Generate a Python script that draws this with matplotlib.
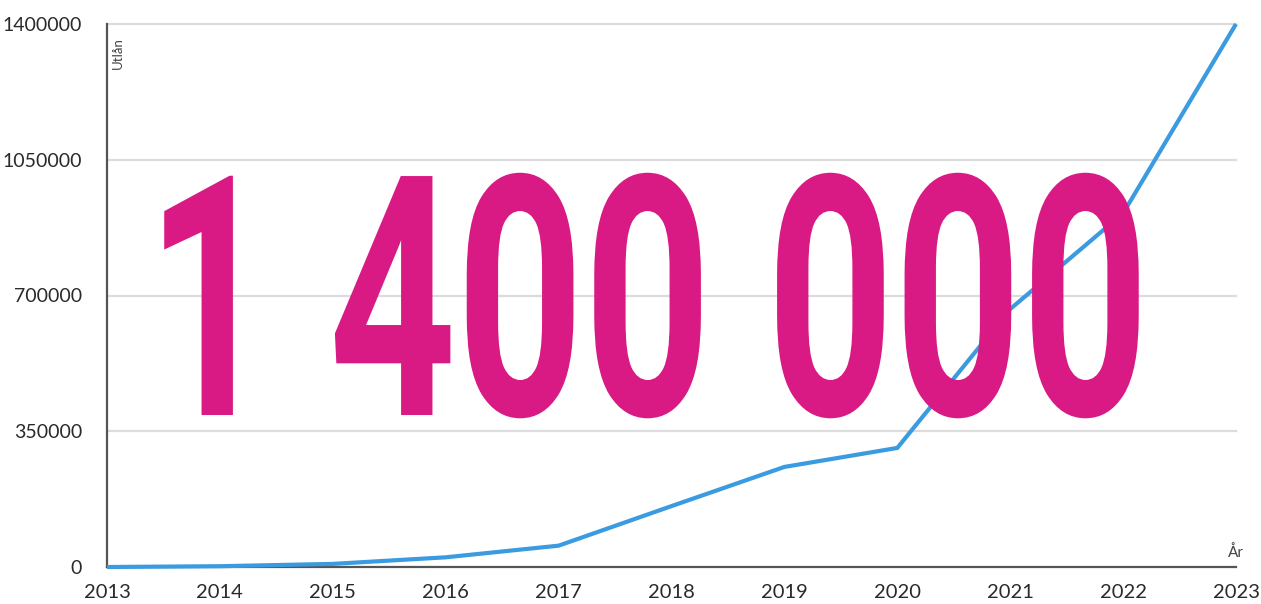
import matplotlib
matplotlib.use('Agg')
import matplotlib.pyplot as plt
from matplotlib.patheffects import AbstractPathEffect
from matplotlib.transforms import Affine2D

years = [2013, 2014, 2015, 2016, 2017, 2018, 2019, 2020, 2021, 2022, 2023]
loans = [0, 2000, 8000, 25000, 55000, 157000, 258000, 307000, 665000, 912000, 1400000]
yticks = [0, 350000, 700000, 1050000, 1400000]
big_label = "1 400 000"

line_color = '#3b9be0'
pink = '#d91a84'
tick_color = '#2a2a2a'


class Stretch(AbstractPathEffect):
    # scale the glyph outlines around the text origin (tall, condensed look)
    def __init__(self, sx=1.0, sy=1.0):
        super().__init__()
        self.sx = sx
        self.sy = sy

    def draw_path(self, renderer, gc, tpath, affine, rgbFace=None):
        renderer.draw_path(gc, tpath, Affine2D().scale(self.sx, self.sy) + affine, rgbFace)


fig = plt.figure(figsize=(12.61, 6.04), dpi=100)
ax = fig.add_axes([107/1261, 37/604, 1129/1261, 543/604])

ax.plot(years, loans, color=line_color, linewidth=3, solid_capstyle='butt',
        solid_joinstyle='miter', zorder=3, clip_on=False)

ax.set_xlim(2013, 2023)
ax.set_ylim(0, 1400000)
ax.set_xticks(years)
ax.set_xticklabels([str(y) for y in years])
ax.set_yticks(yticks)
ax.set_yticklabels([str(v) for v in yticks])

for v in yticks[1:]:
    ax.axhline(v, color='#dcdcdc', linewidth=1.6, zorder=1, clip_on=False)

for s in ['top', 'right']:
    ax.spines[s].set_visible(False)
for s in ['left', 'bottom']:
    ax.spines[s].set_color('#555555')
    ax.spines[s].set_linewidth(1.6)

ax.tick_params(axis='both', length=0, labelsize=14, labelcolor=tick_color)
ax.tick_params(axis='y', pad=18)
ax.tick_params(axis='x', pad=12)
ax.tick_params(axis='x', labelsize=14.5)
for lab in ax.get_xticklabels() + ax.get_yticklabels():
    lab.set_fontfamily('Lato')

ax.text(0.0097, 0.975, 'Utlån', transform=ax.transAxes, rotation=90, ha='center', va='top',
        fontsize=9.5, color='#444444', family='Lato')
ax.text(1.0, 0.012, 'År', transform=ax.transAxes, ha='center', va='bottom',
        fontsize=11, color='#444444', family='Lato')

fig.text(146/1261, (604-415)/604, big_label, ha='left', va='baseline', color=pink,
         fontsize=160, family='Roboto', weight='bold', zorder=5,
         path_effects=[Stretch(1.0, 1.5125)])

fig.savefig('out.png', dpi=100)
